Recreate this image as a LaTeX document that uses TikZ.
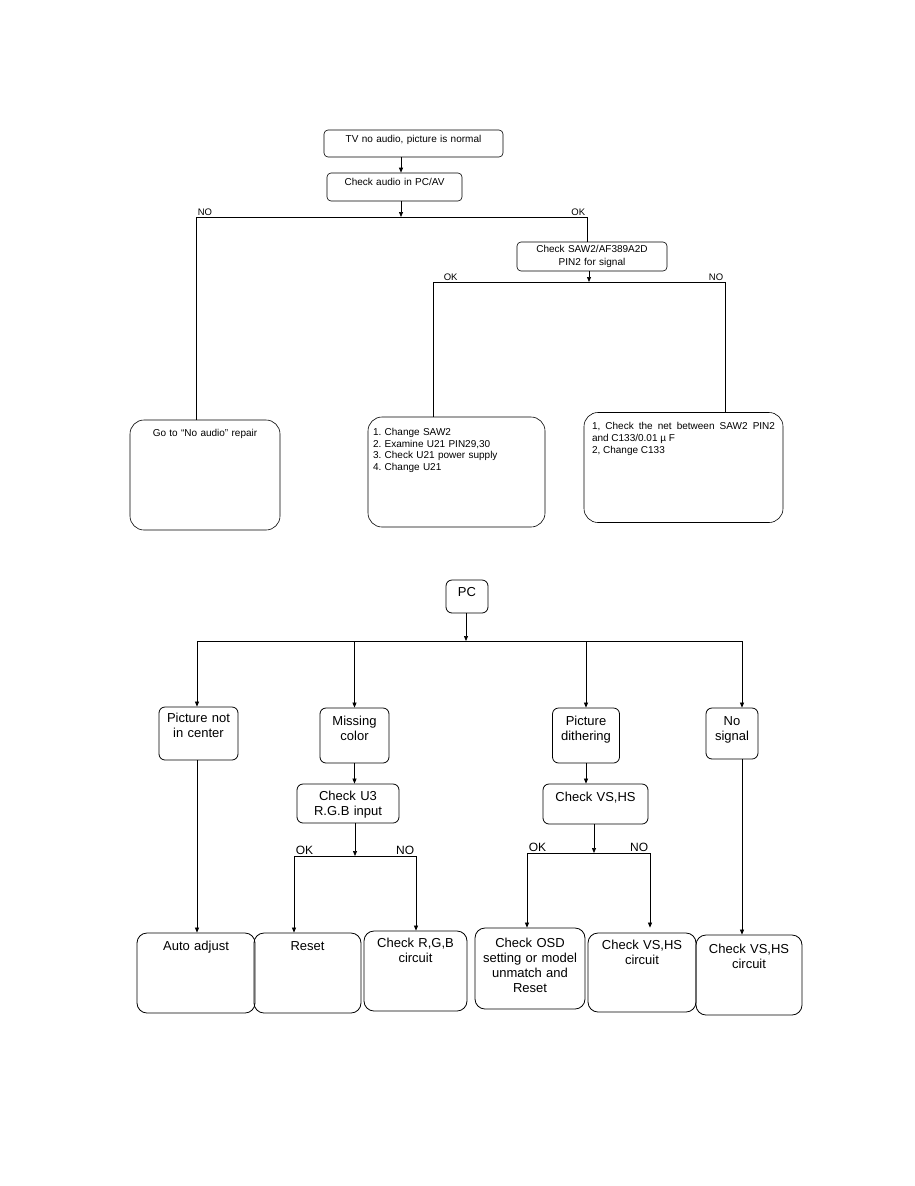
\documentclass[tikz,border=0pt]{standalone}
\usepackage{fontspec}
\setmainfont{Liberation Sans}
\usetikzlibrary{arrows.meta,positioning}

\begin{document}
\frenchspacing
\begin{tikzpicture}[
  x=1pt,y=1pt,
  >={Triangle[length=5pt,width=4pt]},
  line/.style={->,line width=0.7pt},
  link/.style={line width=0.7pt},
  sz/.style n args={3}{text width=#1,text height=#2,text depth=#3-#2},
  topbox/.style={draw,line width=0.6pt,rounded corners=4pt,inner sep=0pt,
                 align=center,font=\fontsize{10}{12.5}\selectfont},
  bigbox/.style={draw,line width=0.6pt,rounded corners=14pt,inner ysep=0pt,
                 font=\fontsize{10}{11.5}\selectfont},
  pcbox/.style={draw,line width=0.8pt,rounded corners=6pt,inner sep=0pt,
                align=center,font=\fontsize{13}{15}\selectfont},
  endbox/.style={pcbox,rounded corners=10pt},
  lab/.style={inner sep=1.5pt,font=\fontsize{9.5}{11}\selectfont},
  blab/.style={inner sep=1.5pt,font=\fontsize{12}{14}\selectfont}
]
\useasboundingbox (0,0) rectangle (914,-1186);

% TV no audio
\node[topbox,sz={179pt}{12.5pt}{27pt}] (tv) at (413.5,-143.5)
  {TV no audio, picture is normal};
\node[topbox,sz={135pt}{12.5pt}{28pt}] (audio) at (394.5,-187)
  {Check audio in PC/AV};
\node[topbox,sz={150pt}{10.5pt}{29pt}] (saw) at (592,-256.5)
  {Check SAW2/AF389A2D\\PIN2 for signal};
\node[bigbox,inner xsep=0pt,align=center,sz={150pt}{16.5pt}{110pt}] (gobox)
  at (205,-475) {Go to “No audio” repair};
\node[bigbox,inner xsep=5pt,align=left,sz={167pt}{18.5pt}{110pt}] (listbox)
  at (456.5,-472) {1. Change SAW2\\ 2. Examine U21 PIN29,30\\
  3. Check U21 power supply\\ 4. Change U21};
\node[bigbox,inner xsep=8pt,align=justify,sz={183pt}{16.5pt}{110pt},
  font=\fontsize{10}{12}\selectfont] (netbox) at (683.5,-467.5)
  {1, Check the net between SAW2 PIN2\linebreak and C133/0.01 µ F\\
  2, Change C133};

\coordinate (split1) at (401,-217);
\coordinate (no1) at (196,-217);
\coordinate (ok1) at (587,-217);
\coordinate (split2) at (589,-282);
\coordinate (ok2) at (433,-282);
\coordinate (no2) at (725,-282);

\draw[line] (tv.south -| split1) -- (audio.north -| split1);
\draw[line] (audio.south -| split1) -- (split1);
\draw[link] (no1) node[lab,above right]{NO} -- (ok1) node[lab,above left]{OK};
\draw[link] (no1) -- (gobox.north -| no1);
\draw[link] (ok1) -- (saw.north -| ok1);
\draw[line] (saw.south -| split2) -- (split2);
\draw[link] (ok2) node[lab,above right,xshift=9pt]{OK}
  -- (no2) node[lab,above left]{NO};
\draw[link] (ok2) -- (listbox.north -| ok2);
\draw[link] (no2) -- (netbox.north -| no2);

% PC
\node[pcbox,sz={42pt}{16.5pt}{33pt}] (pc) at (467,-596.5) {PC};
\node[pcbox,sz={79pt}{15.5pt}{53pt}] (center) at (198.5,-733.5)
  {Picture not\\in center};
\node[pcbox,sz={69pt}{17.5pt}{55pt}] (missing) at (354.5,-735.5)
  {Missing\\color};
\node[pcbox,sz={67pt}{17pt}{55pt}] (dither) at (586,-735.5)
  {Picture\\dithering};
\node[pcbox,sz={52pt}{17.5pt}{51pt}] (nosignal) at (732,-733.5)
  {No\\signal};
\node[pcbox,sz={102pt}{16.5pt}{39pt}] (checku) at (348,-803.5)
  {Check U3\\R.G.B input};
\node[pcbox,sz={105pt}{17.5pt}{40pt}] (checkvs) at (595.5,-804)
  {Check VS,HS};
\node[endbox,sz={118pt}{17.5pt}{80pt}] (adjust) at (196,-973) {Auto adjust};
\node[endbox,sz={107pt}{17.5pt}{80pt}] (reset) at (307.5,-973) {Reset};
\node[endbox,sz={103pt}{16.5pt}{80pt}] (rgb) at (415.5,-971)
  {Check R,G,B\\circuit};
\node[endbox,sz={110pt}{19.5pt}{81pt}] (osd) at (530,-968.5)
  {Check OSD\\setting or model\\unmatch and\\Reset};
\node[endbox,sz={108pt}{16.5pt}{79pt}] (vsone) at (642,-972.5)
  {Check VS,HS\\circuit};
\node[endbox,sz={106pt}{18.5pt}{80pt}] (vstwo) at (749,-975)
  {Check VS,HS\\circuit};

\coordinate (split3) at (466,-641);
\coordinate (left3) at (197,-641);
\coordinate (right3) at (742,-641);
\coordinate (split4) at (355,-856);
\coordinate (ok4) at (294,-856);
\coordinate (no4) at (416,-856);
\coordinate (split5) at (594,-853);
\coordinate (ok5) at (527,-853);
\coordinate (no5) at (650,-853);

\draw[line] (pc.south -| split3) -- (split3);
\draw[link] (left3) -- (right3);
\draw[line] (left3) -- (center.north -| left3);
\draw[line] (left3 -| missing.north) -- (missing.north);
\draw[line] (left3 -| dither.north) -- (dither.north);
\draw[line] (right3) -- (nosignal.north -| right3);
\draw[line] (missing.south) -- (missing.south |- checku.north);
\draw[line] (dither.south) -- (dither.south |- checkvs.north);
\draw[line] (center.south -| left3) -- (adjust.north -| left3);
\draw[line] (nosignal.south -| right3) -- (vstwo.north -| right3);
\draw[line] (checku.south -| split4) -- (split4);
\draw[link] (ok4) node[blab,above right]{OK} -- (no4) node[blab,above left]{NO};
\draw[line] (ok4) -- (reset.north -| ok4);
\draw[line] (no4) -- (rgb.north -| no4);
\draw[line] (checkvs.south -| split5) -- (split5);
\draw[link] (ok5) node[blab,above right]{OK} -- (no5) node[blab,above left]{NO};
\draw[line] (ok5) -- (osd.north -| ok5);
\draw[line,shorten >=5pt] (no5) -- (vsone.north -| no5);
\end{tikzpicture}
\end{document}
